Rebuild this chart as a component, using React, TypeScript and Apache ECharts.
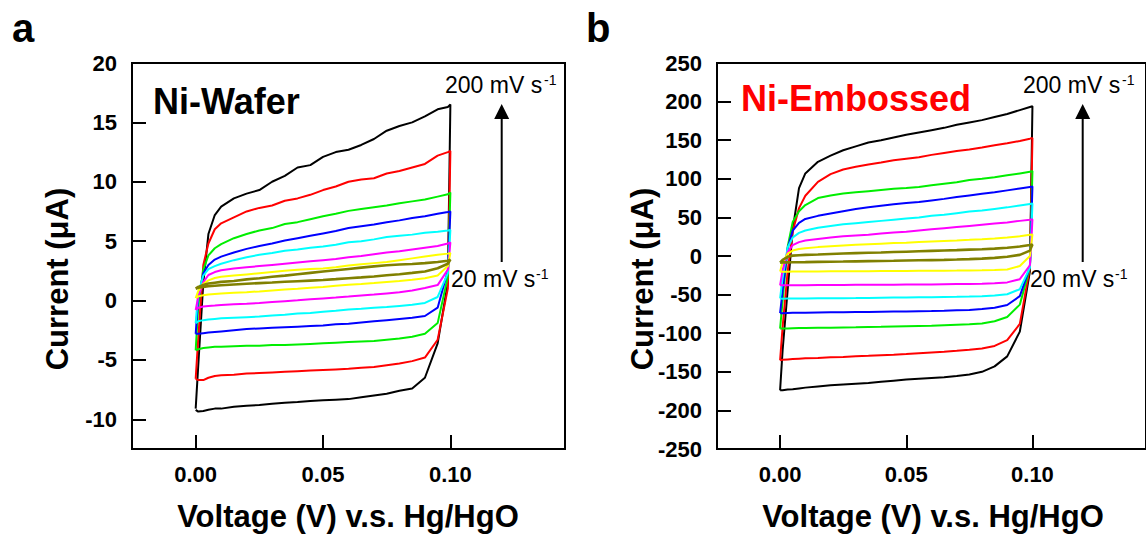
import React, { useEffect, useRef } from "react";
import * as echarts from "echarts";

const FONT = '"Liberation Sans", Arial, Helvetica, sans-serif';

// Potential grid (V vs Hg/HgO) shared by all branches
const voltages = [0, 0.001, 0.003, 0.005, 0.0075, 0.01, 0.015, 0.02, 0.025, 0.03, 0.035, 0.04, 0.045, 0.05, 0.055, 0.06, 0.065, 0.07, 0.075, 0.08, 0.085, 0.09, 0.095, 0.099, 0.1];

const curveColors = ["#000000", "#ff0000", "#00ee00", "#0000ff", "#00ffff", "#ff00ff", "#ffff00", "#808000"];
const curveNames = ["200 mV s-1", "curve 2", "curve 3", "curve 4", "curve 5", "curve 6", "curve 7", "20 mV s-1"];

// Ni-Wafer, current in µA: forward (anodic) branch
const waferForward = [
  [-9.1, -5.5, 1.5, 5.6, 7.2, 7.9, 8.6, 9.0, 9.3, 10.0, 10.5, 11.2, 11.4, 12.1, 12.5, 12.7, 13.1, 13.6, 14.3, 14.7, 15.0, 15.5, 16.1, 16.3, 16.5],
  [-6.6, -3.2, 3.0, 4.8, 6.0, 6.5, 7.0, 7.5, 7.8, 8.0, 8.4, 8.6, 8.9, 9.3, 9.6, 10.0, 10.2, 10.3, 10.7, 10.9, 11.2, 11.5, 12.2, 12.5, 12.6],
  [-4.2, -0.5, 2.6, 3.8, 4.4, 4.75, 5.25, 5.6, 5.9, 6.1, 6.45, 6.6, 6.85, 7.1, 7.3, 7.55, 7.7, 7.85, 8.0, 8.2, 8.35, 8.5, 8.75, 8.95, 9.1],
  [-2.8, 0.2, 2.3, 3.0, 3.45, 3.7, 4.05, 4.35, 4.6, 4.8, 5.05, 5.25, 5.45, 5.65, 5.85, 6.1, 6.25, 6.4, 6.6, 6.75, 6.95, 7.1, 7.3, 7.45, 7.5],
  [-1.9, 0.6, 2.1, 2.65, 2.9, 3.1, 3.4, 3.65, 3.85, 4.0, 4.2, 4.3, 4.45, 4.55, 4.7, 4.9, 5.0, 5.15, 5.35, 5.45, 5.55, 5.7, 5.8, 5.9, 5.95],
  [-0.8, 0.3, 1.55, 2.15, 2.4, 2.55, 2.7, 2.8, 2.9, 3.0, 3.1, 3.2, 3.3, 3.4, 3.5, 3.65, 3.75, 3.9, 4.05, 4.15, 4.3, 4.45, 4.6, 4.8, 4.9],
  [0.2, 0.8, 1.4, 1.7, 1.9, 2.0, 2.1, 2.2, 2.3, 2.4, 2.5, 2.6, 2.65, 2.7, 2.8, 2.95, 3.05, 3.15, 3.25, 3.4, 3.55, 3.7, 3.85, 3.95, 4.0],
  [1.0, 1.15, 1.3, 1.43, 1.5, 1.57, 1.65, 1.78, 1.88, 2.0, 2.1, 2.22, 2.33, 2.44, 2.55, 2.66, 2.77, 2.88, 2.97, 3.03, 3.08, 3.15, 3.25, 3.35, 3.45],
];

// Ni-Wafer: reverse (cathodic) branch, listed by ascending potential
const waferReverse = [
  [-9.2, -9.35, -9.3, -9.2, -9.1, -9.1, -8.95, -8.85, -8.8, -8.7, -8.6, -8.55, -8.45, -8.4, -8.35, -8.3, -8.15, -8.0, -7.85, -7.6, -7.4, -6.5, -3.6, 1.5, 16.5],
  [-6.6, -6.7, -6.7, -6.5, -6.35, -6.3, -6.25, -6.15, -6.1, -6.05, -6.0, -5.95, -5.9, -5.85, -5.8, -5.75, -5.65, -5.6, -5.45, -5.3, -5.1, -4.8, -3.3, 1.0, 12.6],
  [-4.2, -4.1, -4.0, -3.95, -3.9, -3.9, -3.85, -3.8, -3.8, -3.75, -3.75, -3.7, -3.65, -3.6, -3.55, -3.5, -3.45, -3.4, -3.3, -3.2, -3.05, -2.8, -1.9, 2.0, 9.1],
  [-2.8, -2.8, -2.75, -2.7, -2.65, -2.6, -2.5, -2.4, -2.35, -2.3, -2.25, -2.2, -2.15, -2.1, -2.0, -1.95, -1.85, -1.75, -1.65, -1.55, -1.45, -1.3, -0.6, 2.5, 7.5],
  [-1.9, -1.75, -1.65, -1.6, -1.55, -1.5, -1.45, -1.4, -1.35, -1.25, -1.2, -1.1, -1.05, -0.95, -0.85, -0.75, -0.7, -0.6, -0.55, -0.45, -0.35, -0.2, 0.3, 2.3, 5.95],
  [-0.8, -0.6, -0.5, -0.45, -0.42, -0.38, -0.32, -0.27, -0.2, -0.12, -0.05, 0.02, 0.1, 0.18, 0.25, 0.33, 0.42, 0.5, 0.6, 0.7, 0.85, 1.05, 1.3, 2.6, 4.9],
  [0.2, 0.35, 0.45, 0.5, 0.55, 0.6, 0.65, 0.7, 0.77, 0.85, 0.93, 1.0, 1.08, 1.15, 1.25, 1.33, 1.4, 1.48, 1.57, 1.65, 1.75, 1.88, 2.1, 2.9, 4.0],
  [1.0, 1.08, 1.15, 1.2, 1.25, 1.29, 1.35, 1.41, 1.47, 1.52, 1.58, 1.63, 1.68, 1.73, 1.8, 1.88, 1.95, 2.03, 2.13, 2.22, 2.33, 2.45, 2.72, 3.1, 3.45],
];

// Ni-Embossed, current in µA: forward branch
const embossedForward = [
  [-174, -122, -44, 34, 88, 107, 122, 130, 137, 142, 147, 150, 153.5, 157, 160, 163, 166, 170, 173, 176, 180, 184, 189, 193, 194],
  [-135, -92, -20, 32, 62, 78, 96, 106, 112, 115.5, 118.5, 121, 124, 126, 128, 131, 133.5, 136, 138, 140.5, 143.5, 146, 149, 152, 153],
  [-94, -58, 12, 44, 58, 66, 75, 78.5, 81, 82.5, 84, 85.5, 87, 88, 89.5, 91.5, 93.5, 95.5, 98.5, 100, 102, 104.5, 107, 109, 110],
  [-74, -45, 10, 33, 43, 48, 52, 55, 58, 61, 63, 65, 67, 68.5, 70, 72, 74, 76.5, 78.5, 80.5, 82.5, 85, 87.5, 89.5, 90],
  [-55, -28, 11, 24, 30, 33, 36.5, 39, 41, 42.5, 44, 45.5, 47, 48.5, 50, 52, 53.5, 55.5, 57.5, 59, 61, 63, 65.5, 67.5, 68],
  [-38, -18, 5, 14, 18, 20, 22, 24, 25.5, 26.5, 27.5, 29, 30.5, 31.5, 33, 34.5, 36, 37.5, 39, 40.5, 42, 43.5, 45.5, 47, 47.5],
  [-20, -8, 3, 7, 9, 10, 11.5, 12.5, 13.5, 14.5, 15.3, 16, 16.7, 17.3, 18, 18.7, 19.4, 20.1, 20.9, 21.8, 22.8, 24, 25.5, 27.5, 28],
  [-8.6, -5, -1, 0.5, 1, 1.5, 2, 2.6, 3.2, 3.7, 4.2, 4.6, 5.1, 5.6, 6.1, 6.6, 7.1, 7.6, 8.2, 8.8, 9.5, 10.6, 12.3, 14.2, 15],
];

// Ni-Embossed: reverse branch, listed by ascending potential
const embossedReverse = [
  [-174, -174, -173, -172.5, -171.5, -170.5, -169, -167.5, -166.5, -165.5, -164.5, -163, -161.5, -160, -159, -158, -157, -155.5, -153.5, -150, -143, -130, -98, -20, 194],
  [-135, -134.5, -134, -133.5, -133, -132.5, -132, -131.3, -130.7, -130, -129.3, -128.5, -127.8, -127, -126, -125, -124, -122.8, -121.5, -119.7, -116.5, -109, -88, -15, 153],
  [-94, -94, -93.8, -93.6, -93.4, -93.2, -93, -92.8, -92.6, -92.4, -92.1, -91.8, -91.4, -91, -90.6, -90.2, -89.6, -89, -88.4, -87.4, -84.5, -79, -63, -15, 110],
  [-74, -74, -73.8, -73.6, -73.5, -73.4, -73.2, -73, -72.8, -72.6, -72.4, -72.2, -72, -71.8, -71.5, -71.2, -70.8, -70.3, -69.8, -68.8, -67, -63.5, -52, -14, 90],
  [-55, -55.3, -55.2, -55.1, -55, -54.9, -54.8, -54.7, -54.6, -54.5, -54.3, -54.1, -53.9, -53.7, -53.5, -53.3, -53.1, -52.9, -52.6, -52.1, -51.2, -49.5, -43, -15, 68],
  [-38, -38, -38, -37.9, -37.9, -37.8, -37.7, -37.6, -37.5, -37.4, -37.3, -37.2, -37.1, -37, -36.9, -36.8, -36.6, -36.4, -36.2, -35.9, -35.4, -34.2, -30, -12, 47.5],
  [-20, -20.3, -20.3, -20.2, -20.2, -20.1, -20, -19.9, -19.8, -19.7, -19.6, -19.5, -19.4, -19.3, -19.2, -19.1, -19, -18.9, -18.7, -18.5, -18.2, -17.5, -13, 0, 28],
  [-8.6, -8.3, -8.2, -8.1, -8, -7.9, -7.6, -7.4, -7.2, -6.9, -6.6, -6.4, -6.2, -5.9, -5.6, -5.3, -5, -4.6, -4.1, -3.4, -2.4, -1, 1.5, 7, 15],
];

const xTicks = [0, 0.05, 0.1];
const waferYTicks = [-10, -5, 0, 5, 10, 15, 20];
const embossedYTicks = [-200, -150, -100, -50, 0, 50, 100, 150, 200];
const embossedYLabels = [-250, -200, -150, -100, -50, 0, 50, 100, 150, 200, 250];

function buildLoop(fwd: number[], rev: number[]) {
  const pts: number[][] = fwd.map((v, i) => [voltages[i], v]);
  for (let i = rev.length - 1; i >= 0; i--) pts.push([voltages[i], rev[i]]);
  return pts;
}

function xAxisCfg(gridIndex: number) {
  return {
    type: "value",
    gridIndex,
    min: -0.025,
    max: 0.145,
    axisLine: { show: true, onZero: false, lineStyle: { color: "#000", width: 2 } },
    axisTick: {
      show: true,
      inside: true,
      length: 14,
      customValues: xTicks,
      lineStyle: { color: "#000", width: 2 },
    },
    axisLabel: {
      customValues: xTicks,
      formatter: (v: number) => v.toFixed(2),
      fontFamily: FONT,
      fontSize: 22,
      fontWeight: "bold",
      color: "#000",
      margin: 14,
    },
    splitLine: { show: false },
  };
}

function yAxisCfg(gridIndex: number, min: number, max: number, ticks: number[], labels: number[]) {
  return {
    type: "value",
    gridIndex,
    min,
    max,
    axisLine: { show: true, onZero: false, lineStyle: { color: "#000", width: 2 } },
    axisTick: {
      show: true,
      inside: true,
      length: 14,
      customValues: ticks,
      lineStyle: { color: "#000", width: 2 },
    },
    axisLabel: {
      customValues: labels,
      formatter: (v: number) => String(v),
      fontFamily: FONT,
      fontSize: 22,
      fontWeight: "bold",
      color: "#000",
      margin: 15,
    },
    splitLine: { show: false },
  };
}

function txt(x: number, y: number, text: string, size: number, opts: any = {}) {
  return {
    type: "text",
    x,
    y,
    rotation: opts.rotation || 0,
    style: {
      text,
      fontFamily: FONT,
      fontSize: size,
      fontWeight: opts.bold ? "bold" : "normal",
      fill: opts.color || "#000",
      align: opts.align || "left",
      verticalAlign: opts.valign || "middle",
    },
    silent: true,
  };
}

function arrow(x: number, yBottom: number, yTop: number) {
  return [
    { type: "line", shape: { x1: x, y1: yBottom, x2: x, y2: yTop + 14 }, style: { stroke: "#000", lineWidth: 2 }, silent: true },
    {
      type: "polygon",
      shape: { points: [[x - 7.5, yTop + 15], [x + 7.5, yTop + 15], [x, yTop]] },
      style: { fill: "#000" },
      silent: true,
    },
  ];
}

export default function App() {
  const ref = useRef<HTMLDivElement>(null);
  useEffect(() => {
    if (!ref.current) return;
    const chart = echarts.init(ref.current, null, { renderer: "svg" });

    const series: any[] = [];
    waferForward.forEach((f, i) => {
      series.push({
        type: "line",
        name: "Ni-Wafer " + curveNames[i],
        xAxisIndex: 0,
        yAxisIndex: 0,
        data: buildLoop(f, waferReverse[i]),
        symbol: "none",
        showSymbol: false,
        lineStyle: { color: curveColors[i], width: i === 7 ? 2.6 : 2 },
        z: 2 + i,
        silent: true,
      });
    });
    embossedForward.forEach((f, i) => {
      series.push({
        type: "line",
        name: "Ni-Embossed " + curveNames[i],
        xAxisIndex: 1,
        yAxisIndex: 1,
        data: buildLoop(f, embossedReverse[i]),
        symbol: "none",
        showSymbol: false,
        lineStyle: { color: curveColors[i], width: i === 7 ? 2.6 : 2 },
        z: 2 + i,
        silent: true,
      });
    });

    const graphic: any[] = [
      txt(12, 28, "a", 40, { bold: true }),
      txt(586, 28, "b", 40, { bold: true }),
      txt(153, 101, "Ni-Wafer", 36, { bold: true }),
      txt(741, 98, "Ni-Embossed", 36, { bold: true, color: "#ff0000" }),
      txt(57, 279, "Current (\u03bcA)", 31, { bold: true, align: "center", rotation: Math.PI / 2 }),
      txt(642, 279, "Current (\u03bcA)", 31, { bold: true, align: "center", rotation: Math.PI / 2 }),
      txt(348, 516, "Voltage (V) v.s. Hg/HgO", 31, { bold: true, align: "center" }),
      txt(933, 516, "Voltage (V) v.s. Hg/HgO", 31, { bold: true, align: "center" }),
      txt(445, 85, "200 mV s", 23),
      txt(544, 80, "-1", 14),
      txt(451, 279, "20 mV s", 23),
      txt(536, 274, "-1", 14),
      txt(1023, 85, "200 mV s", 23),
      txt(1122, 80, "-1", 14),
      txt(1030, 279, "20 mV s", 23),
      txt(1115, 274, "-1", 14),
      ...arrow(501.7, 262, 104),
      ...arrow(1082.7, 262, 104),
    ];

    chart.setOption({
      animation: false,
      backgroundColor: "#ffffff",
      textStyle: { fontFamily: FONT },
      grid: [
        { left: 132, top: 63, width: 433, height: 386, show: true, borderColor: "#000", borderWidth: 2, backgroundColor: "transparent" },
        { left: 717, top: 63, width: 433, height: 386, show: true, borderColor: "#000", borderWidth: 2, backgroundColor: "transparent" },
      ],
      xAxis: [xAxisCfg(0), xAxisCfg(1)],
      yAxis: [
        yAxisCfg(0, -12.5, 20, waferYTicks, waferYTicks),
        yAxisCfg(1, -250, 250, embossedYTicks, embossedYLabels),
      ],
      series,
      graphic,
    });
    return () => chart.dispose();
  }, []);
  return (
    <div
      ref={ref}
      style={{ position: "absolute", left: 0, top: 0, width: 1146, height: 536 }}
    />
  );
}
